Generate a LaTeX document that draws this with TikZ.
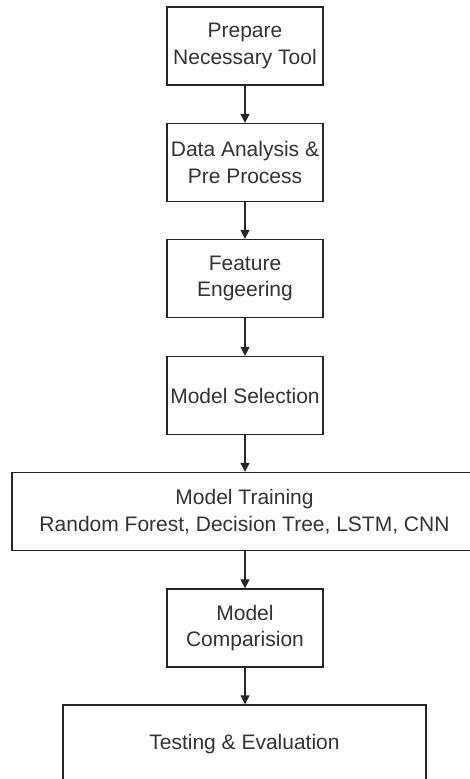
\documentclass[tikz,border=0pt]{standalone}
\usepackage{fontspec}
\setmainfont{Liberation Sans}
\usetikzlibrary{arrows.meta}
\begin{document}
\begin{tikzpicture}[x=1pt,y=-1pt,
  stepbox/.style={draw=black!85, line width=1.3pt, rectangle, align=center,
    minimum width=156pt, minimum height=78pt, inner sep=0pt, text=black!80,
    font=\fontsize{21}{26.7}\selectfont},
  flow/.style={draw=black!85, line width=1.3pt, -{Triangle[width=9pt,length=9pt]}}]
\useasboundingbox (0,0) rectangle (470,779);
\clip (0,0) rectangle (470,779);
\fill[white] (0,0) rectangle (470,779);
\node[stepbox] (n1) at (245,46) {Prepare\\Necessary Tool};
\node[stepbox] (n2) at (245,162.5) {Data Analysis \&\\Pre Process};
\node[stepbox] (n3) at (245,278.5) {Feature\\Engeering};
\node[stepbox] (n4) at (245,395.5) {Model Selection};
\node[stepbox, minimum width=465pt] (n5) at (244.5,511.5) {Model Training\\Random Forest, Decision Tree, LSTM, CNN};
\node[stepbox] (n6) at (245,628) {Model\\Comparision};
\node[stepbox, minimum width=363pt] (n7) at (244.5,744) {Testing \& Evaluation};
\draw[flow] (n1) -- (n2);
\draw[flow] (n2) -- (n3);
\draw[flow] (n3) -- (n4);
\draw[flow] (n4.south) -- (n5.north -| n4.south);
\draw[flow] (n5.south -| n6.north) -- (n6.north);
\draw[flow] (n6) -- (n7.north -| n6.south);
\end{tikzpicture}
\end{document}
